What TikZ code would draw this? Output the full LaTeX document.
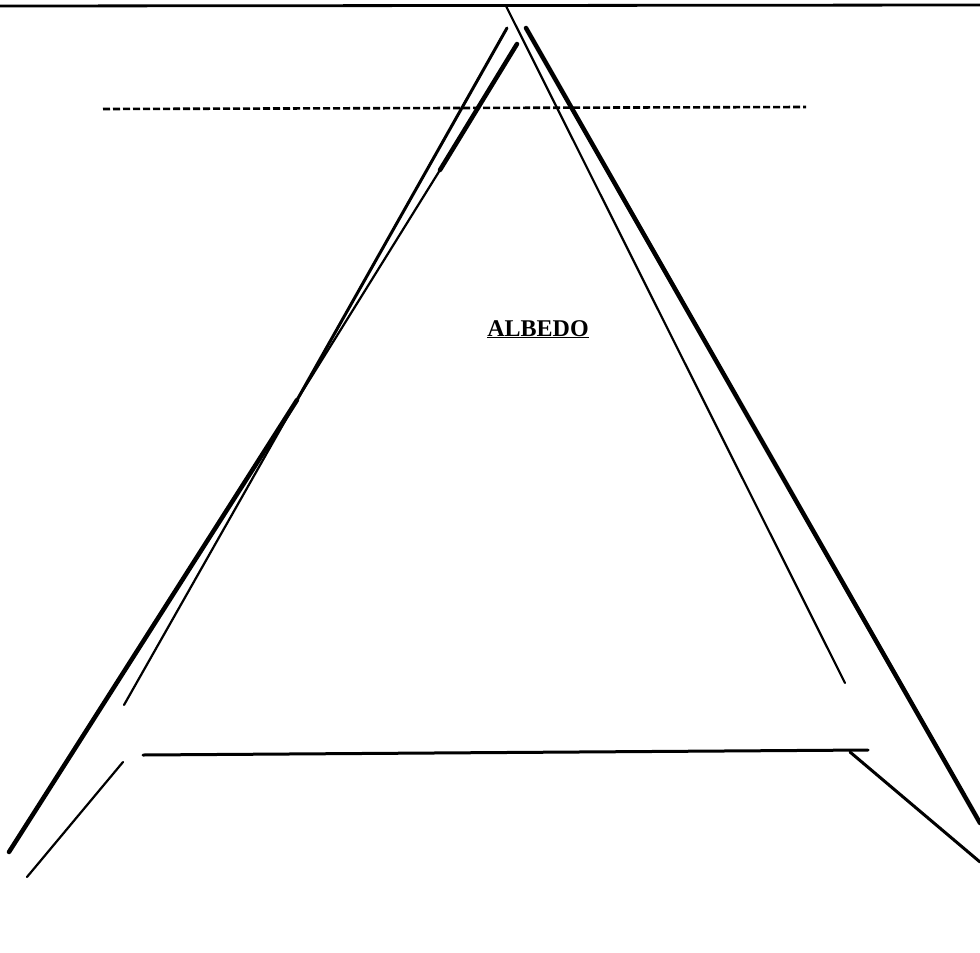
\documentclass[tikz,border=0pt]{standalone}
\usepackage{fontspec}
\setmainfont{Liberation Serif}
\begin{document}
\begin{tikzpicture}[x=1pt,y=-1pt,
  ink/.style={draw=black,line cap=round,line join=round},
  heavy/.style={ink,line width=4.5pt},
  medium/.style={ink,line width=3pt},
  light/.style={ink,line width=2.2pt},
  dashline/.style={draw=black,line width=2.6pt,dash pattern=on 7pt off 3pt},
  label/.style={font=\bfseries\fontsize{24}{28}\selectfont,inner sep=0pt}]
\useasboundingbox[fill=white] (0,0) rectangle (980,953);
% top border
\coordinate (tl) at (0,6);
\coordinate (tr) at (980,5);
\draw[ink,line width=2.8pt] (tl) -- (tr);
% apex points
\coordinate (apexA) at (507,28);
\coordinate (apexB) at (517,44);
\coordinate (apexC) at (506,6);
\coordinate (apexD) at (526,28);
\coordinate (mid) at (297,400);
% left outer line
\coordinate (lo) at (9,852);
\draw[medium] (apexA) -- (mid);
\draw[heavy] (mid) -- (lo);
% left inner line
\coordinate (li) at (124,705);
\draw[heavy] (apexB) -- (440,170);
\draw[light] (440,170) -- (mid) -- (li);
% right thin line
\coordinate (rt) at (845,683);
\draw[light] (apexC) -- (rt);
% right thick line
\coordinate (rk) at (980,823);
\draw[heavy] (apexD) -- (rk);
% dashed line
\coordinate (d1) at (103,109);
\coordinate (d2) at (806,107);
\draw[dashline] (d1) -- (d2);
% bottom horizontal
\coordinate (h1) at (143,755);
\coordinate (h2) at (868,750);
\draw[medium] (h1) -- (h2);
% bottom right slant
\coordinate (s1) at (850,752);
\coordinate (s2) at (980,862);
\draw[medium] (s1) -- (s2);
% bottom left slant
\coordinate (b1) at (123,762);
\coordinate (b2) at (27,877);
\draw[light] (b1) -- (b2);
% label
\node[label,anchor=base] (albedo) at (538,336) {\underline{ALBEDO}};
\end{tikzpicture}
\end{document}
